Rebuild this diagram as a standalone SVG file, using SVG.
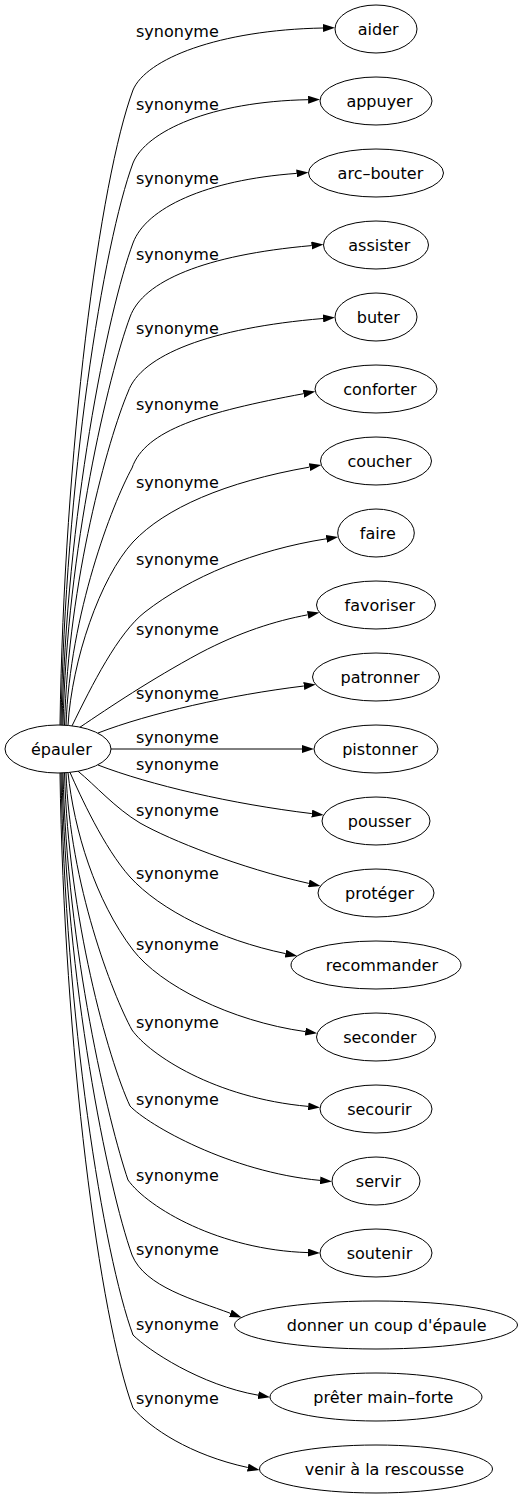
<svg xmlns="http://www.w3.org/2000/svg" width="529" height="1499" viewBox="0 0 529 1499">
<style>
.n ellipse{fill:none;stroke:#000;stroke-width:1}
.n text{font-family:"DejaVu Sans",sans-serif;font-size:16px;fill:#000}
.e path{fill:none;stroke:#000;stroke-width:1;marker-end:url(#ah)}
.l text{font-family:"DejaVu Sans",sans-serif;font-size:16px;fill:#000}
</style>
<defs>
<marker id="ah" markerWidth="12" markerHeight="8" refX="0" refY="4" orient="auto" markerUnits="userSpaceOnUse" viewBox="0 0 12 8"><path d="M0,0 L12,4 L0,8 z" fill="#000"/></marker>
</defs>
<rect width="529" height="1499" fill="#fff"/>
<g id="edges" class="e">
<path d="M60,725 C64,450 99.7,180 133,90 C146,59 218.5,30 323,28"/>
<path d="M61,725 C65,481.7 103.5,242.8 133,163 C146,131.2 211,101.5 308.1,99.7"/>
<path d="M62,725.1 C66,516.3 107.7,311.4 133,243 C146,208 206,180 296.5,173.4"/>
<path d="M63,725.1 C67,548.4 108.6,375 130,317 C143,281 205,255 311.5,245.6"/>
<path d="M64.5,725.2 C68.5,581 108,439.3 128,392 C141,355 210,328 323,318.5"/>
<path d="M66,725.3 C70,614 112,504.5 132,468 C145,430 205,412 303.5,393.7"/>
<path d="M68,725.4 C72,660 100,578 133,542 C165,508 225,482 309.5,467.1"/>
<path d="M72,725.9 C92,685 118,633 145,612 C190,577 255,550 326.3,538.8"/>
<path d="M80,727.2 C110,707 150,680 200,653 C240,632 275,621 307.7,614.8"/>
<path d="M98,733 C150,713 230,695 303.8,686"/>
<path d="M111,749 L302,749"/>
<path d="M98,765 C150,785 232,804 311.8,813.6"/>
<path d="M78,771.2 C95,785 115,808 140,823 C170,840 240,868 308.8,883.4"/>
<path d="M70,772.4 C80,795 104,848 130,877 C160,910 220,940 285.5,953.6"/>
<path d="M68,772.6 C74,830 95,900 133,950 C160,985 230,1021 305.3,1031.6"/>
<path d="M66,772.7 C70,884 112,993.5 132,1030 C150,1055 215,1098 308.2,1106.4"/>
<path d="M64.5,772.8 C68.5,917 108,1058.7 130,1106 C148,1125 230,1172 320.1,1180.4"/>
<path d="M63,772.9 C67,949.6 108.6,1123 128,1180 C148,1208 220,1250 308,1252.6"/>
<path d="M62,772.9 C66,981.7 107.7,1186.6 132,1255 C145,1287 195,1300 230.4,1313.3"/>
<path d="M61,773 C65,1016.3 103.5,1255.2 133,1335 C148,1350 200,1385 258.2,1395.2"/>
<path d="M60,773 C64,1048 99.7,1318 133,1408 C150,1428 190,1455 247.8,1467.5"/>
</g>
<g id="labels" class="l">
<text x="136" y="37.3">synonyme</text>
<text x="136" y="110">synonyme</text>
<text x="136" y="183.5">synonyme</text>
<text x="136" y="259.5">synonyme</text>
<text x="136" y="333.5">synonyme</text>
<text x="136" y="409.5">synonyme</text>
<text x="136" y="487.5">synonyme</text>
<text x="136" y="565">synonyme</text>
<text x="136" y="635">synonyme</text>
<text x="136" y="698.5">synonyme</text>
<text x="136" y="743">synonyme</text>
<text x="136" y="770">synonyme</text>
<text x="136" y="816">synonyme</text>
<text x="136" y="878.5">synonyme</text>
<text x="136" y="950">synonyme</text>
<text x="136" y="1027.5">synonyme</text>
<text x="136" y="1105">synonyme</text>
<text x="136" y="1181">synonyme</text>
<text x="136" y="1255">synonyme</text>
<text x="136" y="1329.5">synonyme</text>
<text x="136" y="1404">synonyme</text>
</g>
<g id="epauler" class="n"><ellipse cx="58" cy="749" rx="53" ry="24"/><text x="30.9" y="755">épauler</text></g>
<g id="aider" class="n"><ellipse cx="376" cy="29" rx="41" ry="24"/><text x="357.8" y="35">aider</text></g>
<g id="appuyer" class="n"><ellipse cx="376" cy="101" rx="56" ry="24"/><text x="346.4" y="107">appuyer</text></g>
<g id="arc-bouter" class="n"><ellipse cx="376" cy="173" rx="67.5" ry="24"/><text x="337.6" y="179">arc–bouter</text></g>
<g id="assister" class="n"><ellipse cx="376" cy="245" rx="52.5" ry="24"/><text x="348.3" y="251">assister</text></g>
<g id="buter" class="n"><ellipse cx="376" cy="317" rx="41" ry="24"/><text x="356.8" y="323">buter</text></g>
<g id="conforter" class="n"><ellipse cx="376" cy="389" rx="61" ry="24"/><text x="343.2" y="395">conforter</text></g>
<g id="coucher" class="n"><ellipse cx="376" cy="461" rx="55.5" ry="24"/><text x="347.4" y="467">coucher</text></g>
<g id="faire" class="n"><ellipse cx="376" cy="533" rx="38.3" ry="24"/><text x="359.8" y="539">faire</text></g>
<g id="favoriser" class="n"><ellipse cx="376" cy="605" rx="59.5" ry="24"/><text x="344.5" y="611">favoriser</text></g>
<g id="patronner" class="n"><ellipse cx="376" cy="677" rx="63.5" ry="24"/><text x="340.6" y="683">patronner</text></g>
<g id="pistonner" class="n"><ellipse cx="376" cy="749" rx="62" ry="24"/><text x="342.2" y="755">pistonner</text></g>
<g id="pousser" class="n"><ellipse cx="376" cy="821" rx="54" ry="24"/><text x="347.8" y="827">pousser</text></g>
<g id="proteger" class="n"><ellipse cx="376" cy="893" rx="58" ry="24"/><text x="345.1" y="899">protéger</text></g>
<g id="recommander" class="n"><ellipse cx="376" cy="965" rx="85" ry="24"/><text x="325.7" y="971">recommander</text></g>
<g id="seconder" class="n"><ellipse cx="376" cy="1037" rx="59.5" ry="24"/><text x="343.2" y="1043">seconder</text></g>
<g id="secourir" class="n"><ellipse cx="376" cy="1109" rx="56" ry="24"/><text x="347.2" y="1115">secourir</text></g>
<g id="servir" class="n"><ellipse cx="376" cy="1181" rx="44" ry="24"/><text x="355.8" y="1187">servir</text></g>
<g id="soutenir" class="n"><ellipse cx="376" cy="1253" rx="56" ry="24"/><text x="346.7" y="1259">soutenir</text></g>
<g id="donner" class="n"><ellipse cx="376" cy="1325" rx="141.5" ry="24"/><text x="286.8" y="1331">donner un coup d'épaule</text></g>
<g id="preter" class="n"><ellipse cx="376" cy="1397" rx="106" ry="24"/><text x="313.3" y="1403">prêter main–forte</text></g>
<g id="venir" class="n"><ellipse cx="376" cy="1469" rx="116.5" ry="24"/><text x="304.7" y="1475">venir à la rescousse</text></g>
</svg>
